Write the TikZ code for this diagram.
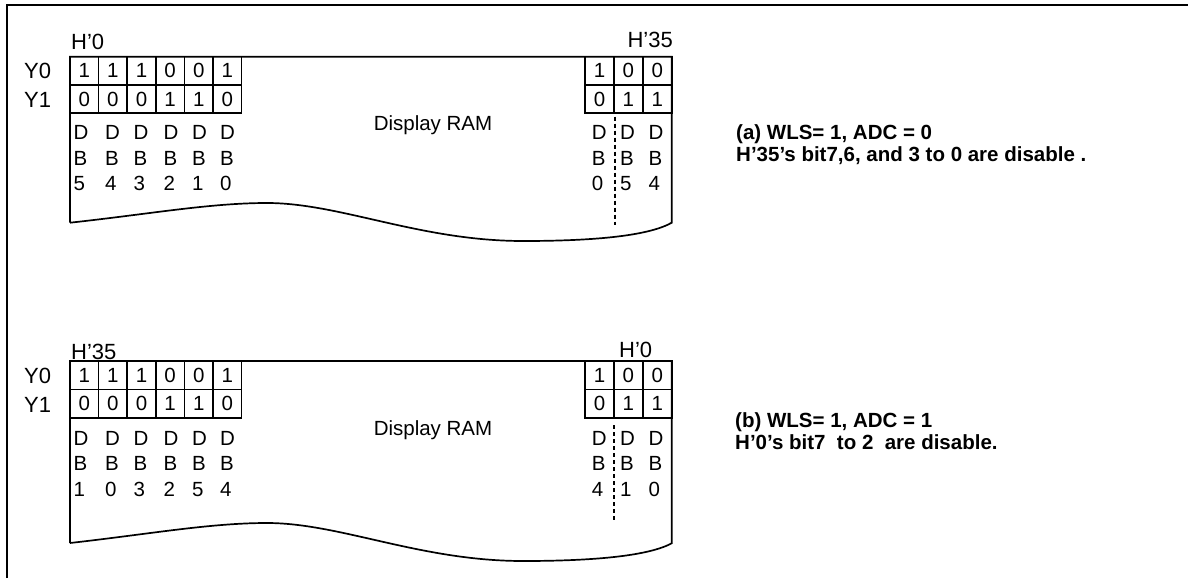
\documentclass[tikz,border=0pt]{standalone}
\usepackage{fontspec}
\setmainfont{Liberation Sans}
\begin{document}
\begin{tikzpicture}[x=1pt,y=-1pt,
  txt/.style={inner sep=0pt, font=\fontsize{20.5}{24}\selectfont},
  lbl/.style={inner sep=0pt, font=\fontsize{22}{26}\selectfont},
  bl/.style={txt, anchor=base west},
  cell/.style={draw, line width=1.7pt, minimum width=28.6pt, minimum height=28.3pt, inner sep=0pt, font=\fontsize{20.5}{24}\selectfont},
  rcell/.style={cell, minimum width=28.9pt},
  ram/.style={line width=1.7pt},
  sep/.style={line width=1.3pt, dash pattern=on 4pt off 3pt},
  note/.style={inner sep=0pt, anchor=base west, font=\fontsize{20.5}{24}\selectfont\bfseries}]
\useasboundingbox (0,0) rectangle (1188,578);
\draw[line width=1.3pt] (7,578) -- (7,5) -- (1188,5);

% ---------- panel (a) ----------
\draw[ram] (70,222.7) -- (70,56.7) -- (671.7,56.7) -- (671.7,222.7)
  .. controls (650,235) and (600,241) .. (523,241)
  .. controls (420,241) and (340,203) .. (267,203)
  .. controls (210,203) and (150,214) .. (70,222.7);
\node[lbl, anchor=base west] (ah0) at (71,49.3) {H’0};
\node[lbl, anchor=base east] (ah35) at (673,47.3) {H’35};
\node[lbl, anchor=west] (ay0) at (24,71) {Y0};
\node[lbl, anchor=west] (ay1) at (24,100) {Y1};
\foreach \v [count=\i from 0] in {1,1,1,0,0,1}
  \node[cell] (ac0\i) at ({84.3+28.6*\i},70.8) {\v};
\foreach \v [count=\i from 0] in {0,0,0,1,1,0}
  \node[cell] (ac1\i) at ({84.3+28.6*\i},99.1) {\v};
\foreach \v [count=\i from 0] in {1,0,0}
  \node[rcell] (ar0\i) at ({599.5+28.9*\i},70.8) {\v};
\foreach \v [count=\i from 0] in {0,1,1}
  \node[rcell] (ar1\i) at ({599.5+28.9*\i},99.1) {\v};
\foreach \x/\d [count=\i] in {73.3/5,105/4,133.3/3,163.3/2,192/1,220/0,591.7/0,620/5,648.3/4} {
  \node[bl] (aD\i) at (\x,139.3) {D};
  \node[bl] (aB\i) at (\x,165) {B};
  \node[bl] (aN\i) at (\x,190.7) {\d};
}
\node[txt] (aram) at (433,125) {Display RAM};
\coordinate (adt) at (615,116.7);
\coordinate (adb) at (615,225);
\draw[sep] (adt) -- (adb);
\node[note] (an1) at (736,139.3) {(a) WLS= 1, ADC = 0};
\node[note] (an2) at (736,161.7) {H’35’s bit7,6, and 3 to 0 are disable .};

% ---------- panel (b) ----------
\draw[ram] (70,543) -- (70,361) -- (671.7,361) -- (671.7,543.3)
  .. controls (650,555) and (600,561) .. (523,561)
  .. controls (420,561) and (340,523) .. (267,523)
  .. controls (210,523) and (150,534) .. (70,543);
\node[lbl, anchor=base west] (bh35) at (71,359) {H’35};
\node[lbl, anchor=base west] (bh0) at (619,357) {H’0};
\node[lbl, anchor=west] (by0) at (24,376) {Y0};
\node[lbl, anchor=west] (by1) at (24,405) {Y1};
\foreach \v [count=\i from 0] in {1,1,1,0,0,1}
  \node[cell] (bc0\i) at ({84.3+28.6*\i},375.3) {\v};
\foreach \v [count=\i from 0] in {0,0,0,1,1,0}
  \node[cell] (bc1\i) at ({84.3+28.6*\i},403.6) {\v};
\foreach \v [count=\i from 0] in {1,0,0}
  \node[rcell] (br0\i) at ({599.5+28.9*\i},375.3) {\v};
\foreach \v [count=\i from 0] in {0,1,1}
  \node[rcell] (br1\i) at ({599.5+28.9*\i},403.6) {\v};
\foreach \x/\d [count=\i] in {73.3/1,105/0,133.3/3,163.3/2,192/5,220/4,591.7/4,620/1,648.3/0} {
  \node[bl] (bD\i) at (\x,445) {D};
  \node[bl] (bB\i) at (\x,470.7) {B};
  \node[bl] (bN\i) at (\x,496.4) {\d};
}
\node[txt] (bram) at (433,430) {Display RAM};
\coordinate (bdt) at (614,425);
\coordinate (bdb) at (614,520);
\draw[sep] (bdt) -- (bdb);
\node[note] (bn1) at (735,427.7) {(b) WLS= 1, ADC = 1};
\node[note] (bn2) at (735,449.3) {H’0’s bit7\ \ to 2\ \ are disable.};
\end{tikzpicture}
\end{document}
